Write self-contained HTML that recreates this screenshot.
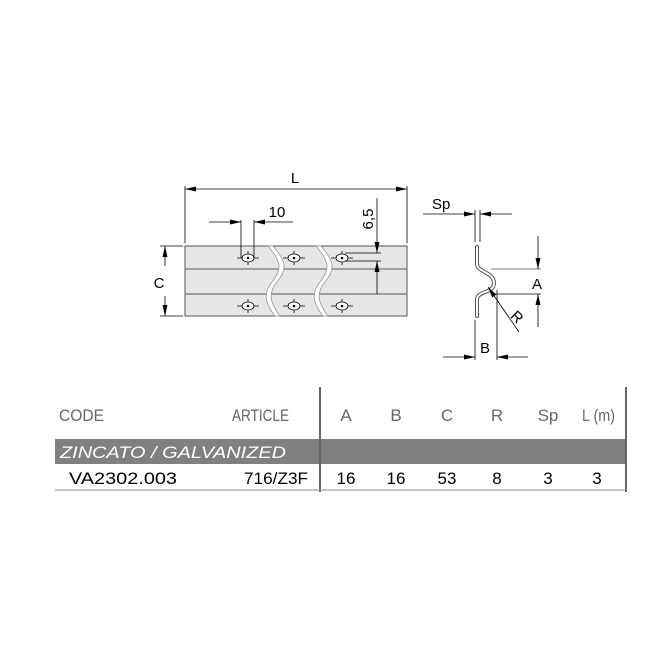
<!DOCTYPE html>
<html><head><style>
body{margin:0;background:#fff;}
svg{display:block;}
text{font-family:"Liberation Sans",sans-serif;}
</style></head><body>
<svg width="650" height="650" viewBox="0 0 650 650" xmlns="http://www.w3.org/2000/svg">
<defs>
<marker id="a" viewBox="0 0 10 10" refX="10" refY="5" markerWidth="11" markerHeight="5" preserveAspectRatio="none" orient="auto-start-reverse" markerUnits="userSpaceOnUse"><path d="M0,0L10,5L0,10z" fill="#000"/></marker>
<g id="h"><line x1="-11" y1="0" x2="11" y2="0"/><line x1="0" y1="-7" x2="0" y2="7"/><ellipse cx="0" cy="0" rx="6" ry="4"/><circle cx="0" cy="0" r="0.9" fill="#000"/></g>
</defs>
<!-- plate -->
<rect x="185" y="246" width="222" height="70" fill="#e6e6e6" stroke="#555" stroke-width="1"/>
<line x1="185" y1="269" x2="407" y2="269" stroke="#555"/>
<line x1="185" y1="294" x2="407" y2="294" stroke="#555"/>
<path d="M268,246 C282,262 282,270 272,282 C262,294 266,304 275,316 L280,316 C271,304 267,294 277,282 C287,270 287,262 273,246Z" fill="#fff" stroke="#999" stroke-width="0.8"/>
<path d="M316,246 C330,262 330,270 320,282 C310,294 314,304 323,316 L328,316 C319,304 315,294 325,282 C335,270 335,262 321,246Z" fill="#fff" stroke="#999" stroke-width="0.8"/>
<g stroke="#000" stroke-width="0.8" fill="#fff">
<use href="#h" x="248" y="258"/><use href="#h" x="294" y="258"/><use href="#h" x="342" y="258"/>
<use href="#h" x="248" y="306"/><use href="#h" x="294" y="306"/><use href="#h" x="342" y="306"/>
</g>
<g stroke="#000" stroke-width="0.8" fill="none">
<line x1="185" y1="186" x2="185" y2="243"/><line x1="407" y1="186" x2="407" y2="243"/>
<line x1="185" y1="189" x2="407" y2="189" marker-start="url(#a)" marker-end="url(#a)"/>
<line x1="241" y1="220" x2="241" y2="258"/><line x1="254" y1="220" x2="254" y2="258"/>
<line x1="209" y1="222" x2="241" y2="222" marker-end="url(#a)"/>
<line x1="293" y1="222" x2="254" y2="222" marker-end="url(#a)"/>
<line x1="345" y1="253" x2="381" y2="253"/><line x1="345" y1="261" x2="381" y2="261"/>
<line x1="377" y1="198" x2="377" y2="253" marker-end="url(#a)"/>
<line x1="377" y1="294" x2="377" y2="261" marker-end="url(#a)"/>
<line x1="160" y1="246" x2="183" y2="246"/><line x1="160" y1="316" x2="183" y2="316"/>
<line x1="165" y1="266" x2="165" y2="246" marker-end="url(#a)"/>
<line x1="165" y1="296" x2="165" y2="316" marker-end="url(#a)"/>
</g>
<text x="295" y="183" font-size="15" text-anchor="middle">L</text>
<text x="277" y="217" font-size="15" text-anchor="middle">10</text>
<text x="373" y="219" font-size="15" text-anchor="middle" transform="rotate(-90 373 219)">6,5</text>
<text x="159" y="288" font-size="15" text-anchor="middle">C</text>
<!-- profile -->
<path d="M477,247 L477,264 C477,272 494,272 494,283 C494,294 477,290 477,300 L477,316" fill="none" stroke="#555" stroke-width="4" stroke-linecap="round"/>
<path d="M477,247 L477,264 C477,272 494,272 494,283 C494,294 477,290 477,300 L477,316" fill="none" stroke="#fff" stroke-width="2" stroke-linecap="round"/>
<g stroke="#000" stroke-width="0.8" fill="none">
<line x1="475" y1="210" x2="475" y2="242"/><line x1="480" y1="210" x2="480" y2="242"/>
<line x1="423" y1="214" x2="475" y2="214" marker-end="url(#a)"/>
<line x1="512" y1="214" x2="480" y2="214" marker-end="url(#a)"/>
<line x1="491" y1="269" x2="541" y2="269" stroke="#555"/>
<line x1="492" y1="294" x2="541" y2="294"/>
<line x1="538" y1="236" x2="538" y2="269" marker-end="url(#a)"/>
<line x1="538" y1="327" x2="538" y2="294" marker-end="url(#a)"/>
<line x1="475" y1="320" x2="475" y2="360"/><line x1="497" y1="290" x2="497" y2="360"/>
<line x1="443" y1="357" x2="475" y2="357" marker-end="url(#a)"/>
<line x1="528" y1="357" x2="497" y2="357" marker-end="url(#a)"/>
<line x1="519" y1="332" x2="488" y2="287" marker-end="url(#a)"/>
</g>
<text x="432" y="209" font-size="15">Sp</text>
<text x="537" y="289" font-size="15" text-anchor="middle">A</text>
<text x="485" y="353" font-size="15" text-anchor="middle">B</text>
<text x="517" y="322" font-size="15" text-anchor="middle" transform="rotate(45 517 317)">R</text>
<!-- table -->
<rect x="55" y="439" width="572" height="25" fill="#808080"/>
<line x1="320" y1="387" x2="320" y2="492" stroke="#666" stroke-width="2"/>
<line x1="626" y1="387" x2="626" y2="492" stroke="#666" stroke-width="2"/>
<line x1="55" y1="490" x2="627" y2="490" stroke="#888" stroke-width="1"/>
<g font-size="17" fill="#666">
<text x="59" y="421" textLength="45" lengthAdjust="spacingAndGlyphs">CODE</text>
<text x="232" y="421" textLength="57" lengthAdjust="spacingAndGlyphs">ARTICLE</text>
<text x="346" y="421" text-anchor="middle">A</text>
<text x="396" y="421" text-anchor="middle">B</text>
<text x="447" y="421" text-anchor="middle">C</text>
<text x="497" y="421" text-anchor="middle">R</text>
<text x="548" y="421" text-anchor="middle">Sp</text>
<text x="582" y="421" textLength="33" lengthAdjust="spacingAndGlyphs">L (m)</text>
</g>
<text x="60" y="458" font-size="17" fill="#fff" font-style="italic" textLength="226" lengthAdjust="spacingAndGlyphs">ZINCATO / GALVANIZED</text>
<g font-size="17" fill="#000">
<text x="69" y="484" textLength="108" lengthAdjust="spacingAndGlyphs">VA2302.003</text>
<text x="244" y="484" textLength="64" lengthAdjust="spacingAndGlyphs">716/Z3F</text>
<text x="346" y="484" text-anchor="middle">16</text>
<text x="396" y="484" text-anchor="middle">16</text>
<text x="447" y="484" text-anchor="middle">53</text>
<text x="497" y="484" text-anchor="middle">8</text>
<text x="548" y="484" text-anchor="middle">3</text>
<text x="597" y="484" text-anchor="middle">3</text>
</g>
</svg>
</body></html>
